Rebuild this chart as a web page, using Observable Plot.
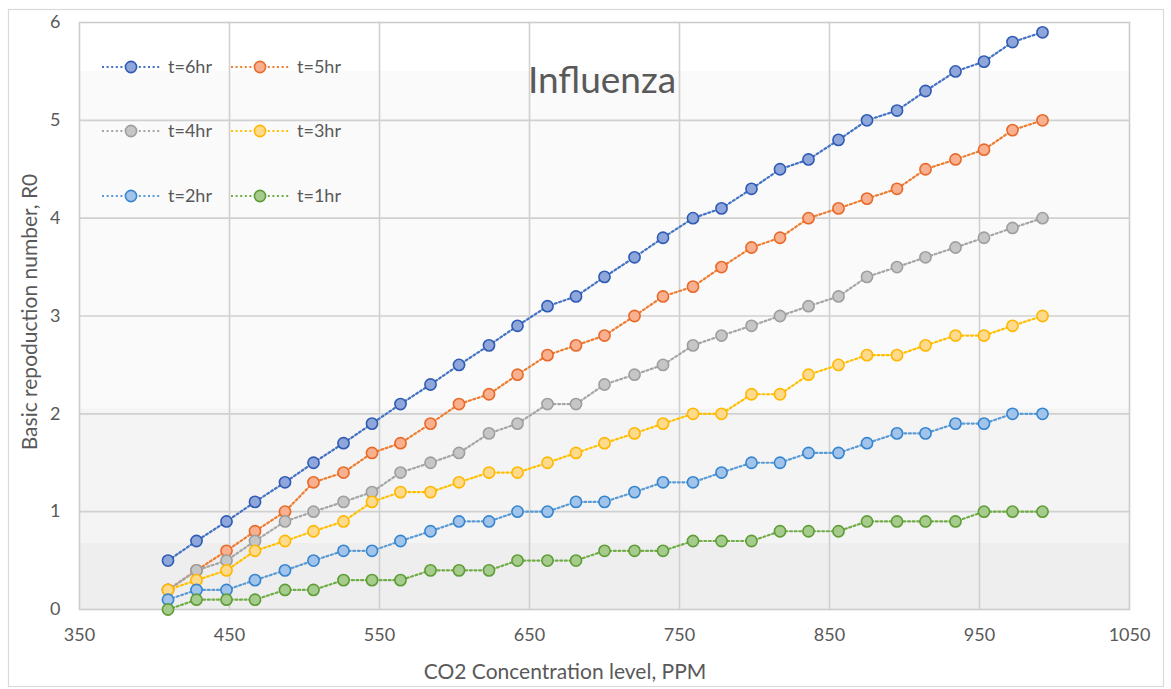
<!DOCTYPE html>
<html>
<head>
<meta charset="utf-8">
<script src="https://cdn.jsdelivr.net/npm/d3@7"></script>
<script src="https://cdn.jsdelivr.net/npm/@observablehq/plot@0.6"></script>
<style>
  html, body { margin: 0; padding: 0; background: #ffffff; }
  #chart { width: 1171px; height: 689px; }
</style>
</head>
<body>
<div id="chart"></div>
<script>
// ---- data ----
const co2 = [409,428,448,467,487,506,526,545,564,584,603,623,642,662,681,700,720,739,759,778,798,817,836,856,875,895,914,934,953,972,992];
const r0_6hr = [0.5,0.7,0.9,1.1,1.3,1.5,1.7,1.9,2.1,2.3,2.5,2.7,2.9,3.1,3.2,3.4,3.6,3.8,4.0,4.1,4.3,4.5,4.6,4.8,5.0,5.1,5.3,5.5,5.6,5.8,5.9];
const r0_5hr = [0.2,0.4,0.6,0.8,1.0,1.3,1.4,1.6,1.7,1.9,2.1,2.2,2.4,2.6,2.7,2.8,3.0,3.2,3.3,3.5,3.7,3.8,4.0,4.1,4.2,4.3,4.5,4.6,4.7,4.9,5.0];
const r0_4hr = [0.2,0.4,0.5,0.7,0.9,1.0,1.1,1.2,1.4,1.5,1.6,1.8,1.9,2.1,2.1,2.3,2.4,2.5,2.7,2.8,2.9,3.0,3.1,3.2,3.4,3.5,3.6,3.7,3.8,3.9,4.0];
const r0_3hr = [0.2,0.3,0.4,0.6,0.7,0.8,0.9,1.1,1.2,1.2,1.3,1.4,1.4,1.5,1.6,1.7,1.8,1.9,2.0,2.0,2.2,2.2,2.4,2.5,2.6,2.6,2.7,2.8,2.8,2.9,3.0];
const r0_2hr = [0.1,0.2,0.2,0.3,0.4,0.5,0.6,0.6,0.7,0.8,0.9,0.9,1.0,1.0,1.1,1.1,1.2,1.3,1.3,1.4,1.5,1.5,1.6,1.6,1.7,1.8,1.8,1.9,1.9,2.0,2.0];
const r0_1hr = [0.0,0.1,0.1,0.1,0.2,0.2,0.3,0.3,0.3,0.4,0.4,0.4,0.5,0.5,0.5,0.6,0.6,0.6,0.7,0.7,0.7,0.8,0.8,0.8,0.9,0.9,0.9,0.9,1.0,1.0,1.0];
const seriesNames = ["t=6hr","t=5hr","t=4hr","t=3hr","t=2hr","t=1hr"];
const xTicks = [350,450,550,650,750,850,950,1050];
const yTicks = [0,1,2,3,4,5,6];
const chartTitle = "Influenza";
const xTitle = "CO2 Concentration level, PPM";
const yTitle = "Basic repoduction number, R0";

// ---- styles ----
const seriesValues = [r0_6hr, r0_5hr, r0_4hr, r0_3hr, r0_2hr, r0_1hr];
const styles = {
  "t=6hr": {line: "#4472C4", stroke: "#2F5BB5", fill: "#8FA6DA"},
  "t=5hr": {line: "#ED7D31", stroke: "#E8692A", fill: "#F8B08E"},
  "t=4hr": {line: "#A5A5A5", stroke: "#9E9E9E", fill: "#C6C6C6"},
  "t=3hr": {line: "#FFC000", stroke: "#FFB800", fill: "#FFD98C"},
  "t=2hr": {line: "#5B9BD5", stroke: "#3585D0", fill: "#A2C4EA"},
  "t=1hr": {line: "#70AD47", stroke: "#5E9D36", fill: "#A5CB8D"}
};
// plot-area shading bands (in value units)
const bands = [
  {lo: 5.5, hi: 6, c: "#ffffff"},
  {lo: 2.05, hi: 5.5, c: "#fafafa"},
  {lo: 0.68, hi: 2.05, c: "#f4f4f4"},
  {lo: 0, hi: 0.68, c: "#eeeeee"}
];

const table = [];
seriesNames.forEach((s, i) => {
  co2.forEach((x, j) => table.push({series: s, x, y: seriesValues[i][j]}));
});

const seriesMarks = [];
seriesNames.forEach(s => {
  const d = table.filter(r => r.series === s);
  seriesMarks.push(Plot.line(d, {x: "x", y: "y", stroke: styles[s].line, strokeWidth: 2.2, strokeDasharray: "2,2.6"}));
  seriesMarks.push(Plot.dot(d, {x: "x", y: "y", r: 5.6, fill: styles[s].fill, stroke: styles[s].stroke, strokeWidth: 1.6}));
});

const chart = Plot.plot({
  width: 1171,
  height: 689,
  marginLeft: 79,
  marginRight: 42,
  marginTop: 22,
  marginBottom: 80,
  style: {fontFamily: "Lato, 'Open Sans', sans-serif", fontSize: "18px", color: "#595959", background: "transparent", overflow: "visible"},
  x: {domain: [350, 1050]},
  y: {domain: [0, 6]},
  marks: [
    Plot.rect(bands, {x1: () => 350, x2: () => 1050, y1: "lo", y2: "hi", fill: "c"}),
    Plot.gridX(xTicks.slice(1, -1), {stroke: "#d0d0d0", strokeOpacity: 1, strokeWidth: 1.6}),
    Plot.gridY(yTicks.slice(1, -1), {stroke: "#d0d0d0", strokeOpacity: 1, strokeWidth: 1.6}),
    Plot.frame({stroke: "#cccccc", strokeWidth: 1.6}),
    Plot.axisX(xTicks, {tickSize: 0, tickPadding: 19, label: null, fill: "#595959", tickFormat: d => String(d)}),
    Plot.axisY(yTicks, {tickSize: 0, tickPadding: 19, label: null, fill: "#595959", tickFormat: d => String(d)}),
    ...seriesMarks
  ]
});

document.getElementById("chart").appendChild(chart);

// ---- decorations: outer border, title, axis titles, legend ----
const svg = d3.select(chart);
svg.insert("rect", ":first-child")
  .attr("x", 8.5).attr("y", 9.5).attr("width", 1155).attr("height", 677)
  .attr("fill", "#ffffff").attr("stroke", "#d9d9d9").attr("stroke-width", 1.2);

svg.append("text").text(chartTitle)
  .attr("x", 602).attr("y", 93).attr("text-anchor", "middle")
  .attr("font-size", 37).attr("fill", "#595959");

svg.append("text").text(xTitle)
  .attr("x", 565).attr("y", 679).attr("text-anchor", "middle")
  .attr("font-size", 21).attr("fill", "#595959");

svg.append("text").text(yTitle)
  .attr("transform", "translate(37,312) rotate(-90)")
  .attr("text-anchor", "middle")
  .attr("font-size", 21).attr("fill", "#595959");

const legendPos = [
  {col: 0, row: 0}, {col: 1, row: 0},
  {col: 0, row: 1}, {col: 1, row: 1},
  {col: 0, row: 2}, {col: 1, row: 2}
];
const colX = [102, 231];
const rowY = [67, 131, 196];
seriesNames.forEach((s, i) => {
  const p = legendPos[i];
  const x0 = colX[p.col], y0 = rowY[p.row];
  const g = svg.append("g");
  g.append("line").attr("x1", x0).attr("x2", x0 + 58).attr("y1", y0).attr("y2", y0)
    .attr("stroke", styles[s].line).attr("stroke-width", 2.2).attr("stroke-dasharray", "2,2.6");
  g.append("circle").attr("cx", x0 + 29).attr("cy", y0).attr("r", 5.6)
    .attr("fill", styles[s].fill).attr("stroke", styles[s].stroke).attr("stroke-width", 1.6);
  g.append("text").text(s).attr("x", x0 + 66).attr("y", y0).attr("dy", "0.35em")
    .attr("text-anchor", "start")
    .attr("font-size", 18).attr("fill", "#595959");
});
</script>
</body>
</html>
